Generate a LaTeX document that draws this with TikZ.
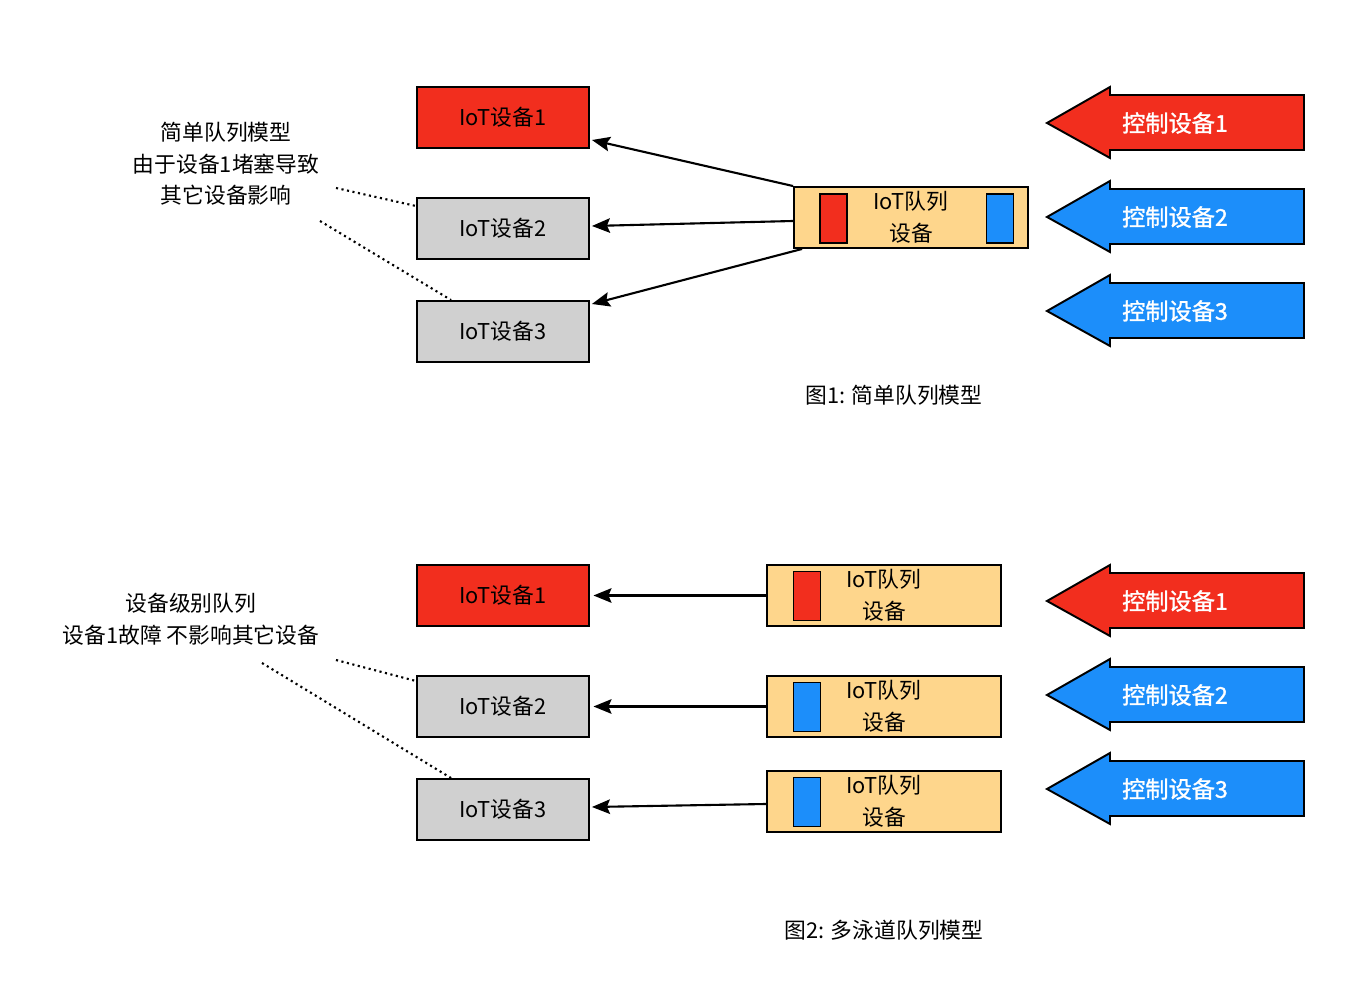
\documentclass[tikz,border=0pt]{standalone}
\usepackage{fontspec}
\setmainfont{Noto Sans CJK SC}
\newfontfamily\ctlfont{Noto Sans CJK SC}[FakeBold=1.2]
\usetikzlibrary{arrows.meta,calc}
\definecolor{devred}{RGB}{242,46,30}
\definecolor{ctlblue}{RGB}{28,142,250}
\definecolor{qfill}{RGB}{254,214,140}
\definecolor{devgray}{RGB}{208,208,208}

\begin{document}
\begin{tikzpicture}[
  x=0.02cm, y=-0.02cm,
  font=\fontsize{12.4}{18}\selectfont,
  dev/.style={draw, line width=1.1pt, minimum width=3.44cm, minimum height=1.22cm, inner sep=0pt},
  queue/.style={draw, line width=1.1pt, fill=qfill, minimum width=4.68cm, minimum height=1.22cm, inner sep=0pt, align=center},
  slot/.style={draw, line width=1.1pt, minimum width=0.54cm, minimum height=0.98cm, inner sep=0pt},
  push/.style={-{Stealth[length=3.6mm, width=2.9mm, inset=0.6mm]}, line width=1.2pt},
  note/.style={dotted, line width=1.2pt},
  ctl/.style={draw, line width=1.1pt, line join=miter},
  ctltext/.style={text=white, font=\ctlfont\fontsize{13.2}{16}\selectfont},
  txt/.style={align=center}
]
\useasboundingbox (0,0) rectangle (1370,996);

% ---- figure 1: simple queue
\node[dev, fill=devred]  (a1) at (503,117.5) {IoT设备1};
\node[dev, fill=devgray] (a2) at (503,228.5) {IoT设备2};
\node[dev, fill=devgray] (a3) at (503,331.5) {IoT设备3};
\node[queue] (qa) at (911,217.5) {IoT队列\\设备};
\node[slot, fill=devred]  (qa1) at (833.5,218.5) {};
\node[slot, fill=ctlblue] (qa2) at (1000,218.5) {};
\draw[push] (qa.north west) -- ([shift={(2,22.5)}]a1.east);
\draw[push] ([shift={(0,3.5)}]qa.west) -- ([shift={(2,-2.5)}]a2.east);
\draw[push] ([shift={(9,0)}]qa.south west) -- ([shift={(2,-27.5)}]a3.east);
\node[txt] (ta) at (226,164) {简单队列模型\\由于设备1堵塞导致\\其它设备影响};
\coordinate (na1) at (336,188);
\coordinate (na2) at (320,221);
\draw[note] (na1) -- ([shift={(0,9)}]a2.north west);
\draw[note] (na2) -- ([shift={(35,0)}]a3.north west);
\node (capa) at (894,395) {图1: 简单队列模型};

% ---- figure 2: lane per device
\node[dev, fill=devred]  (b1) at (503,595.5) {IoT设备1};
\node[dev, fill=devgray] (b2) at (503,706.5) {IoT设备2};
\node[dev, fill=devgray] (b3) at (503,809.5) {IoT设备3};
\node[queue] (qb1) at (884,595.5) {IoT队列\\设备};
\node[queue] (qb2) at (884,706.5) {IoT队列\\设备};
\node[queue] (qb3) at (884,801.5) {IoT队列\\设备};
\node[slot, fill=devred]  (sb1) at (807,596) {};
\node[slot, fill=ctlblue] (sb2) at (807,707) {};
\node[slot, fill=ctlblue] (sb3) at (807,802) {};
\draw[push] (qb1.west) -- ([xshift=2]b1.east);
\draw[push] (qb2.west) -- ([xshift=2]b2.east);
\draw[push] ([shift={(0,2.5)}]qb3.west) -- ([shift={(2,-2.5)}]b3.east);
\node[txt] (tb) at (191,619) {设备级别队列\\设备1故障 不影响其它设备};
\coordinate (nb1) at (336,660);
\coordinate (nb2) at (262,663);
\draw[note] (nb1) -- ([shift={(0,6)}]b2.north west);
\draw[note] (nb2) -- ([shift={(35,0)}]b3.north west);
\node (capb) at (884,930) {图2: 多泳道队列模型};

% ---- control arrows
\foreach \y/\c/\k/\g in {123/devred/1/a, 217/ctlblue/2/a, 311/ctlblue/3/a,
                         601/devred/1/b, 695/ctlblue/2/b, 789/ctlblue/3/b} {
  \draw[ctl, fill=\c] (1047,\y) -- (1110,\y-36) -- (1110,\y-28) -- (1304,\y-28)
    -- (1304,\y+27) -- (1110,\y+27) -- (1110,\y+35) -- cycle;
  \node[ctltext] (c\g\k) at (1175,\y) {控制设备\k};
}
\end{tikzpicture}
\end{document}
